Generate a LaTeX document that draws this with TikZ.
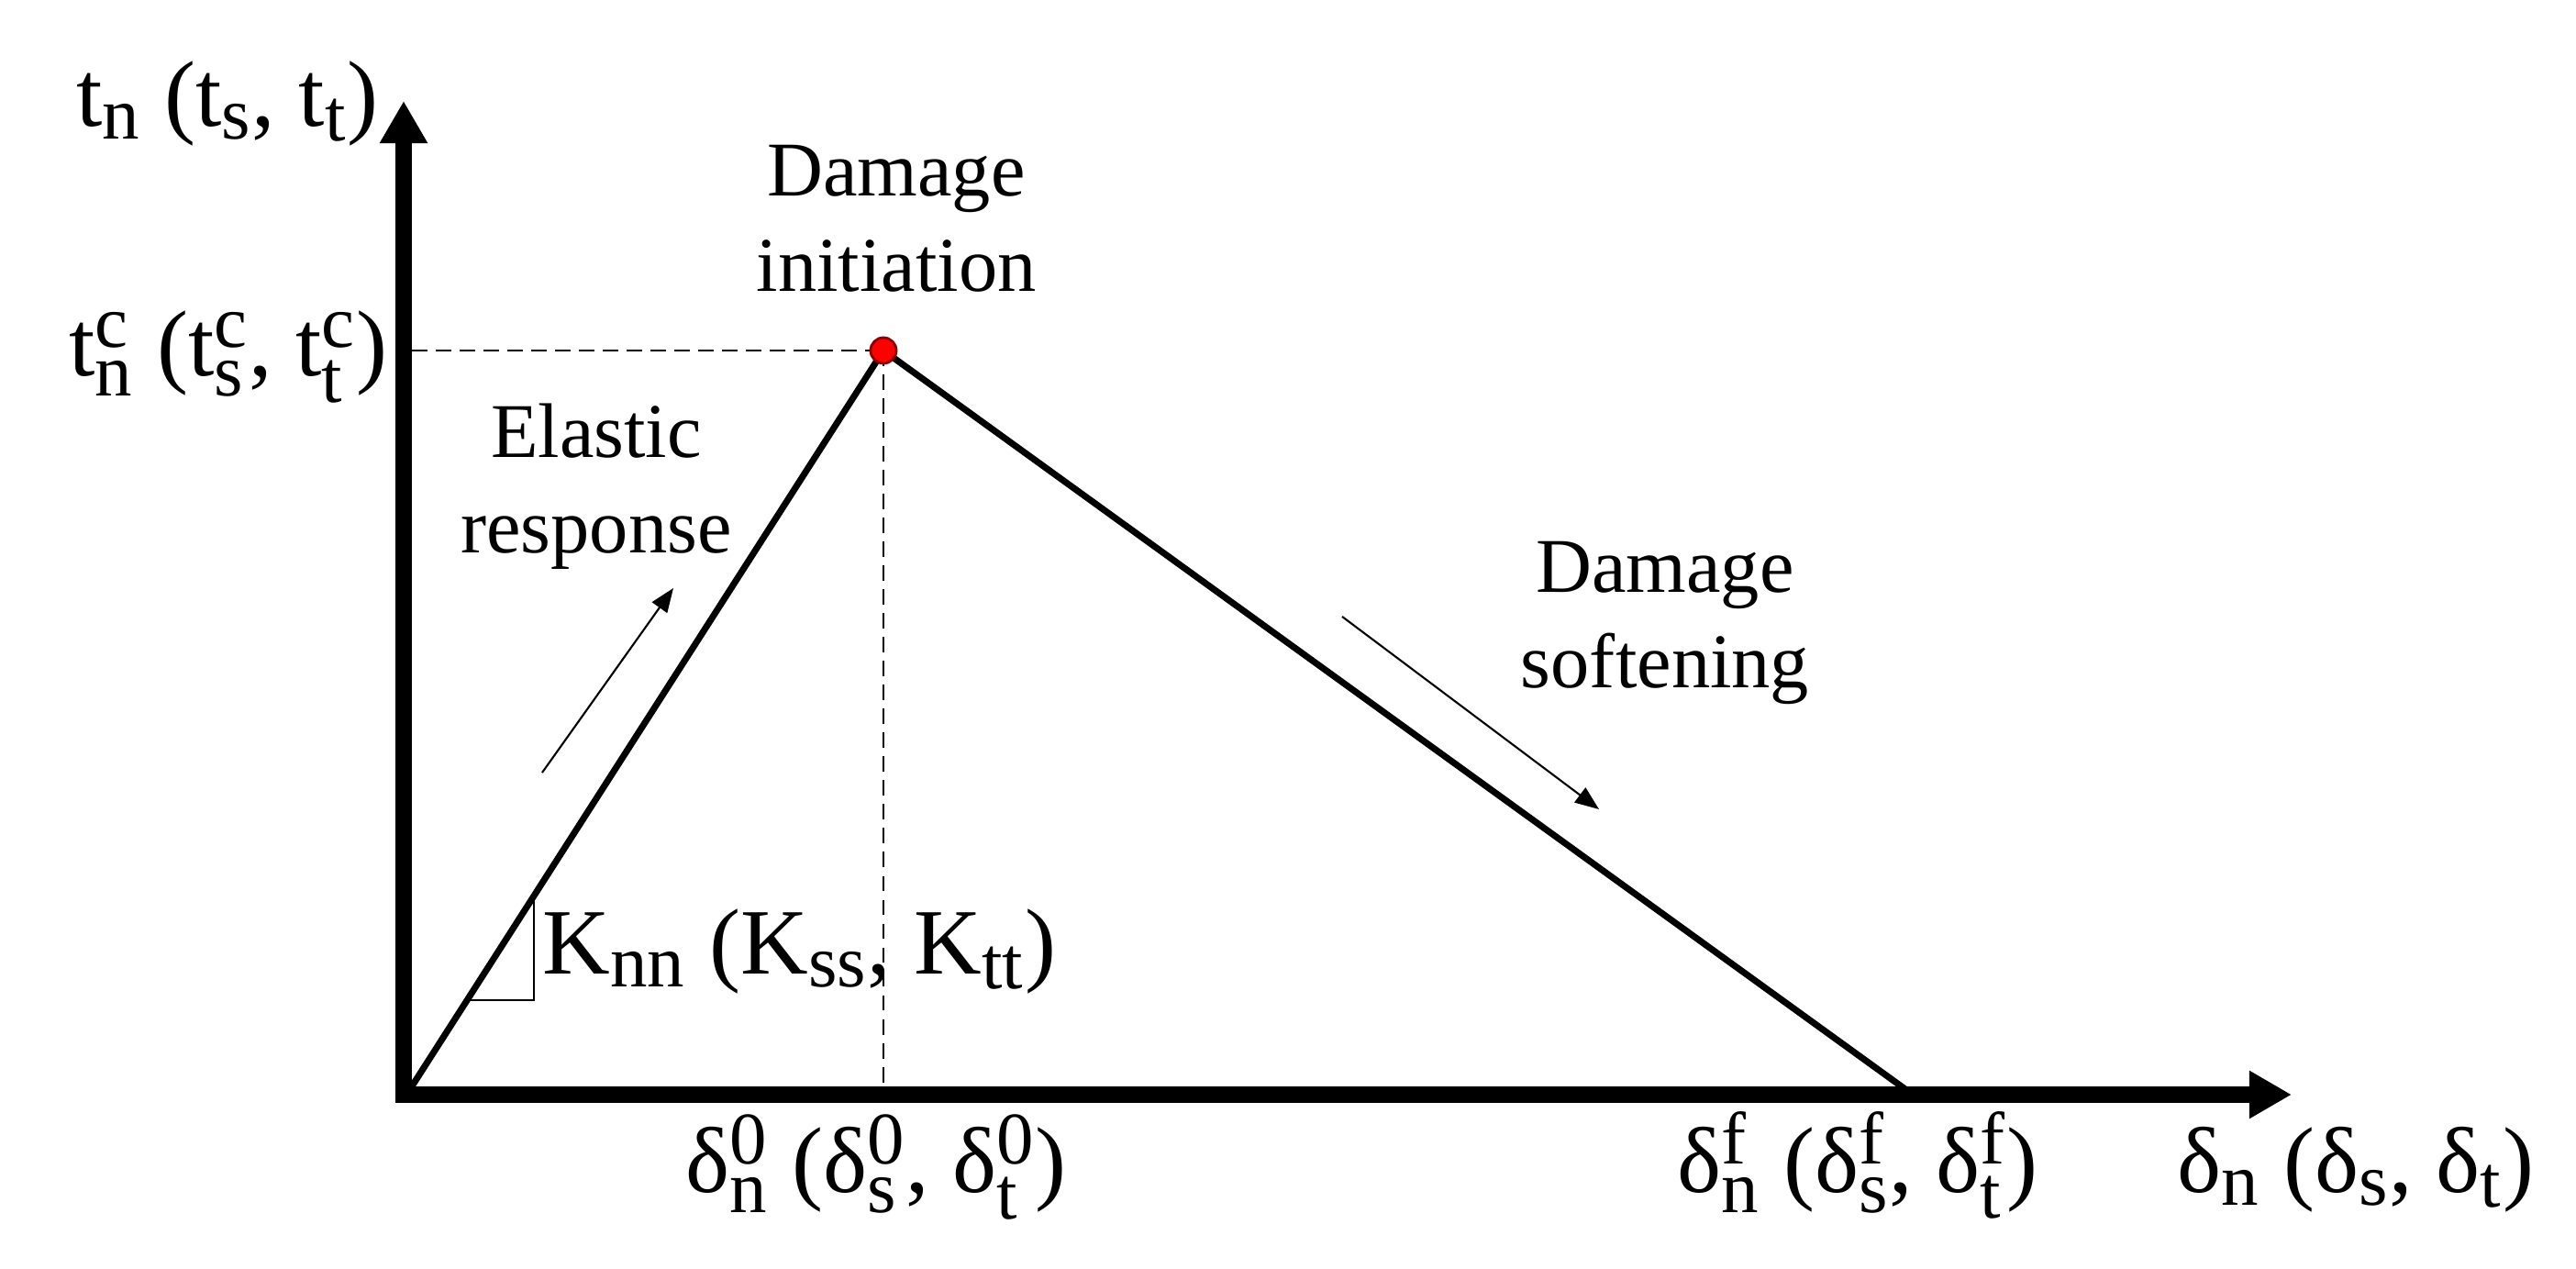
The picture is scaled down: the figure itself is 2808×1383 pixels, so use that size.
\documentclass[tikz,border=0pt]{standalone}
\usepackage{fontspec}
\usepackage{amsmath}
\setmainfont{Liberation Serif}
\DeclareMathSizes{29}{29}{23}{18}
\usetikzlibrary{arrows.meta}
\newcommand\sbx[1]{\ensuremath{_{\text{#1}}}}
\newcommand\ssx[2]{\ensuremath{^{\text{#1}}_{\text{#2}}}}
\begin{document}
\begin{tikzpicture}[x=0.01cm,y=-0.01cm,
  axis/.style={line width=5pt,-{Triangle[length=0.46cm,width=0.49cm]}},
  curve/.style={line width=2pt},
  guide/.style={line width=0.8pt,dash pattern=on 4.8pt off 2.6pt},
  hint/.style={line width=0.6pt,-{Triangle[length=0.26cm,width=0.2cm]}},
  word/.style={font=\fontsize{24}{29.7}\selectfont,align=center,inner sep=0pt},
  lbl/.style={font=\fontsize{29}{34}\selectfont,inner sep=0pt}]
\useasboundingbox (0,0) rectangle (2808,1383);
% key points
\coordinate (O) at (440,1193);
\coordinate (Ytip) at (440,110);
\coordinate (Ybot) at (440,1202);
\coordinate (Xleft) at (431,1193);
\coordinate (Xtip) at (2498,1193);
\coordinate (S) at (447,1187);
\coordinate (Pk) at (963,382);
\coordinate (F) at (2081,1190);
\coordinate (Yc) at (449,382);
\coordinate (Xc) at (963,1185);
\coordinate (T1) at (509,1090);
\coordinate (T2) at (582,1090);
\coordinate (T3) at (582,976);
\coordinate (A1s) at (591,842);
\coordinate (A1e) at (734,641);
\coordinate (A2s) at (1463,672);
\coordinate (A2e) at (1743,882);
% guides
\draw[guide] (Yc) -- (Pk);
\draw[guide] (Pk) -- (Xc);
% axes
\draw[axis] (Ybot) -- (Ytip);
\draw[axis] (Xleft) -- (Xtip);
% traction-separation law
\draw[curve] (S) -- (Pk) -- (F);
\draw[line width=0.7pt] (T1) -- (T2) -- (T3);
\node[circle,fill=red,draw=red!55!black,line width=0.8pt,minimum size=0.28cm,inner sep=0pt] (peak) at (Pk) {};
% direction hints
\draw[hint] (A1s) -- (A1e);
\draw[hint] (A2s) -- (A2e);
% words (base = baseline of last line)
\node[word,anchor=base] (init) at (977,318) {Damage\\initiation};
\node[word,anchor=base] (elas) at (650,603) {Elastic\\response};
\node[word,anchor=base] (soft) at (1815,750) {Damage\\softening};
% labels
\node[lbl,anchor=base east] (ylab) at (413,138) {t\sbx{n} (t\sbx{s}, t\sbx{t})};
\node[lbl,anchor=base east] (yclab) at (423,410) {t\ssx{c}{n} (t\ssx{c}{s}, t\ssx{c}{t})};
\node[lbl,anchor=base west] (klab) at (591,1062) {K\sbx{nn} (K\sbx{ss}, K\sbx{tt})};
\node[lbl,anchor=base] (d0lab) at (955,1300) {δ\ssx{0}{n} (δ\ssx{0}{s}, δ\ssx{0}{t})};
\node[lbl,anchor=base] (dflab) at (2025,1300) {δ\ssx{f}{n} (δ\ssx{f}{s}, δ\ssx{f}{t})};
\node[lbl,anchor=base] (dlab) at (2568,1300) {δ\sbx{n} (δ\sbx{s}, δ\sbx{t})};
\end{tikzpicture}
\end{document}
